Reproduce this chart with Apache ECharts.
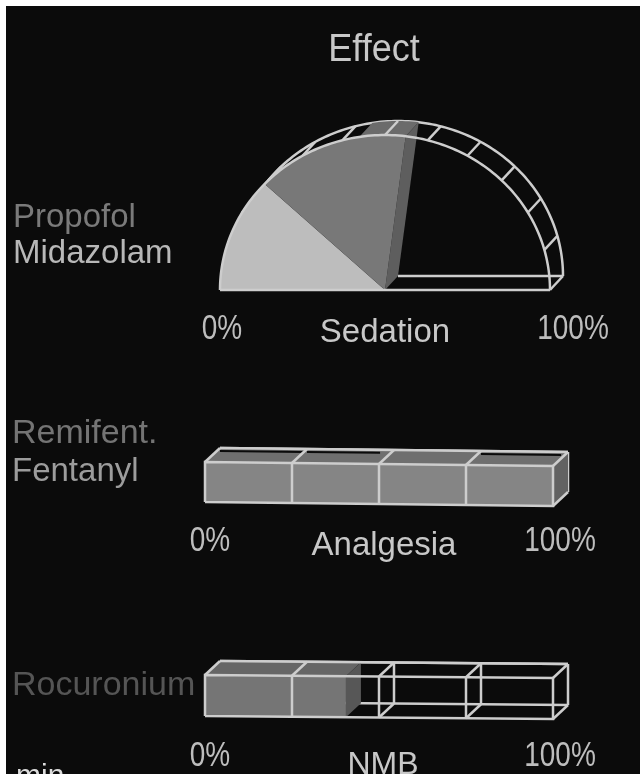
<!DOCTYPE html>
<html>
<head>
<meta charset="utf-8">
<title>Effect</title>
<script src="https://cdn.jsdelivr.net/npm/echarts@6/dist/echarts.min.js"></script>
<style>
  html, body { margin: 0; padding: 0; background: #fff; overflow: hidden; }
  #main { position: absolute; left: 6px; top: 6px; width: 634px; height: 768px; }
</style>
</head>
<body>
<div id="main"></div>
<script>
// values, percent of each scale
var sedationDrugs = ['Propofol', 'Midazolam'];
var sedationValues = [24, 30];
var analgesiaDrugs = ['Remifent.', 'Fentanyl'];
var analgesiaValues = [100];
var nmbDrugs = ['Rocuronium'];
var nmbValues = [40.5];
var sedationTicks = [8.33, 16.67, 25, 33.33, 41.67, 50, 58.33, 66.67, 75, 83.33, 91.67];
var barTicks = [25, 50, 75];
var scaleLabels = ['0%', '100%'];
var gaugeNames = ['Sedation', 'Analgesia', 'NMB'];
var analgesiaSlits = [[0, 24], [25, 46], [75, 98]];

var WIRE = '#cdcdcd';
var OFFX = -6, OFFY = -6; // chart starts 6px in from the page edge

var chart = echarts.init(document.getElementById('main'));

function wire(points, w) {
  return { type: 'polyline', shape: { points: points }, style: { stroke: WIRE, lineWidth: w || 2.5, fill: null } };
}
function poly(points, color) {
  return { type: 'polygon', shape: { points: points }, style: { fill: color } };
}

// half disc: percent runs from the left end over the top to the right end
function arcPoint(api, pct, back) {
  var a = Math.PI * (1 - pct / 100);
  var p = api.coord([100 * Math.cos(a), 100 * Math.sin(a)]);
  return back ? [p[0] + 13, p[1] - 14] : p;
}
function arcPoints(api, from, to, back) {
  var out = [];
  var n = Math.max(2, Math.round((to - from) * 1.5));
  for (var i = 0; i <= n; i++) out.push(arcPoint(api, from + (to - from) * i / n, back));
  return out;
}
function centerPoint(api, back) {
  var p = api.coord([0, 0]);
  return back ? [p[0] + 13, p[1] - 14] : p;
}

function sedationBack(params, api) {
  var kids = [wire(arcPoints(api, 0, 100, true))];
  var total = sedationValues[0] + sedationValues[1];
  var band = arcPoints(api, 45, total, false).concat(arcPoints(api, 45, total, true).reverse());
  kids.push(poly(band, '#6b6b6b'));
  sedationTicks.forEach(function (t) {
    kids.push(wire([arcPoint(api, t, false), arcPoint(api, t, true)]));
  });
  // rim back side and right hand closure
  kids.push(wire([centerPoint(api, true), arcPoint(api, 100, true)]));
  kids.push(wire([arcPoint(api, 100, false), arcPoint(api, 100, true)]));
  return { type: 'group', children: kids };
}
function sedationFill(params, api) {
  var start = 0;
  for (var i = 0; i < params.dataIndex; i++) start += sedationValues[i];
  var end = start + sedationValues[params.dataIndex];
  var pts = [centerPoint(api, false)].concat(arcPoints(api, start, end, false));
  var kids = [];
  if (params.dataIndex === sedationValues.length - 1) {
    kids.push(poly([centerPoint(api, false), arcPoint(api, end, false), arcPoint(api, end, true), centerPoint(api, true)], '#5e5e5e'));
  }
  kids.push(poly(pts, params.dataIndex === 0 ? '#bdbdbd' : '#787878'));
  return { type: 'group', children: kids };
}
function sedationFront(params, api) {
  return { type: 'group', children: [
    wire(arcPoints(api, 0, 100, false)),
    wire([arcPoint(api, 0, false), arcPoint(api, 100, false)])
  ] };
}

// box gauges: x is percent, y runs 0..1 over the front face
function boxPoint(api, pct, lvl, back, tilt) {
  var p = api.coord([pct, lvl]);
  p[1] += tilt * pct / 100;
  return back ? [p[0] + 15, p[1] - 14] : p;
}
function boxBack(tilt) {
  return function (params, api) {
    var kids = [
      wire([boxPoint(api, 0, 1, true, tilt), boxPoint(api, 100, 1, true, tilt)]),
      wire([boxPoint(api, 0, 0, true, tilt), boxPoint(api, 100, 0, true, tilt)]),
      wire([boxPoint(api, 100, 1, true, tilt), boxPoint(api, 100, 0, true, tilt)])
    ];
    barTicks.forEach(function (t) {
      kids.push(wire([boxPoint(api, t, 1, true, tilt), boxPoint(api, t, 0, true, tilt)]));
      kids.push(wire([boxPoint(api, t, 0, false, tilt), boxPoint(api, t, 0, true, tilt)]));
    });
    return { type: 'group', children: kids };
  };
}
function boxFill(tilt, front, top, side, slits) {
  return function (params, api) {
    var v = api.value(0);
    var kids = [
      poly([boxPoint(api, 0, 1, false, tilt), boxPoint(api, v, 1, false, tilt), boxPoint(api, v, 1, true, tilt), boxPoint(api, 0, 1, true, tilt)], top),
      poly([boxPoint(api, v, 1, false, tilt), boxPoint(api, v, 0, false, tilt), boxPoint(api, v, 0, true, tilt), boxPoint(api, v, 1, true, tilt)], side),
      poly([boxPoint(api, 0, 1, false, tilt), boxPoint(api, v, 1, false, tilt), boxPoint(api, v, 0, false, tilt), boxPoint(api, 0, 0, false, tilt)], front)
    ];
    (slits || []).forEach(function (s) {
      var a = boxPoint(api, s[0], 1, true, tilt), b = boxPoint(api, s[1], 1, true, tilt);
      kids.push({ type: 'line', shape: { x1: a[0], y1: a[1] + 3, x2: b[0], y2: b[1] + 3 }, style: { stroke: '#0b0b0b', lineWidth: 2 } });
    });
    return { type: 'group', children: kids };
  };
}
function boxFront(tilt) {
  return function (params, api) {
    var kids = [
      wire([boxPoint(api, 0, 0, false, tilt), boxPoint(api, 0, 1, false, tilt), boxPoint(api, 100, 1, false, tilt), boxPoint(api, 100, 0, false, tilt), boxPoint(api, 0, 0, false, tilt)]),
      wire([boxPoint(api, 0, 1, false, tilt), boxPoint(api, 0, 1, true, tilt)]),
      wire([boxPoint(api, 100, 1, false, tilt), boxPoint(api, 100, 1, true, tilt)]),
      wire([boxPoint(api, 100, 0, false, tilt), boxPoint(api, 100, 0, true, tilt)]),
      wire([boxPoint(api, 0, 1, true, tilt), boxPoint(api, 100, 1, true, tilt)])
    ];
    barTicks.forEach(function (t) {
      kids.push(wire([boxPoint(api, t, 1, false, tilt), boxPoint(api, t, 0, false, tilt)]));
      kids.push(wire([boxPoint(api, t, 1, false, tilt), boxPoint(api, t, 1, true, tilt)]));
    });
    return { type: 'group', children: kids };
  };
}

function layer(idx, render, data) {
  return { type: 'custom', xAxisIndex: idx, yAxisIndex: idx, renderItem: render, data: data, clip: false, silent: true, animation: false };
}
function hiddenAxis(min, max, g) { return { type: 'value', min: min, max: max, show: false, gridIndex: g }; }
function label(text, x, y, size, color, align, stretch) {
  return { type: 'text', x: x + OFFX, y: y + OFFY, scaleY: stretch || 1, silent: true, style: {
    text: text, fill: color, align: align || 'left', verticalAlign: 'middle',
    font: size + 'px "Liberation Sans"'
  } };
}

chart.setOption({
  backgroundColor: '#0b0b0b',
  animation: false,
  grid: [
    { left: 220 + OFFX, width: 330, top: 135 + OFFY, height: 155 },
    { left: 205 + OFFX, width: 348, top: 462 + OFFY, height: 40 },
    { left: 205 + OFFX, width: 348, top: 675 + OFFY, height: 41 }
  ],
  xAxis: [hiddenAxis(-100, 100, 0), hiddenAxis(0, 100, 1), hiddenAxis(0, 100, 2)],
  yAxis: [hiddenAxis(0, 100, 0), hiddenAxis(0, 1, 1), hiddenAxis(0, 1, 2)],
  series: [
    layer(0, sedationBack, [0]),
    layer(0, sedationFill, sedationValues),
    layer(0, sedationFront, [0]),
    layer(1, boxBack(4), [0]),
    layer(1, boxFill(4, '#858585', '#6f6f6f', '#626262', analgesiaSlits), analgesiaValues),
    layer(1, boxFront(4), [0]),
    layer(2, boxBack(3), [0]),
    layer(2, boxFill(3, '#757575', '#666666', '#575757'), nmbValues),
    layer(2, boxFront(3), [0])
  ],
  graphic: { elements: [
    label('Effect', 374, 50, 36, '#c8c8c8', 'center', 1.1),
    label(sedationDrugs[0], 13, 218, 33, '#7a7a7a'),
    label(sedationDrugs[1], 13, 254, 33, '#b8b8b8'),
    label(analgesiaDrugs[0], 12, 434, 34, '#747474'),
    label(analgesiaDrugs[1], 12, 472, 33, '#9c9c9c'),
    label(nmbDrugs[0], 12, 686, 34, '#555555'),
    label(scaleLabels[0], 222, 329, 28, '#bdbdbd', 'center', 1.25),
    label(gaugeNames[0], 385, 333, 33, '#c8c8c8', 'center'),
    label(scaleLabels[1], 573, 329, 28, '#bdbdbd', 'center', 1.25),
    label(scaleLabels[0], 210, 541, 28, '#bdbdbd', 'center', 1.25),
    label(gaugeNames[1], 384, 546, 33, '#c8c8c8', 'center'),
    label(scaleLabels[1], 560, 541, 28, '#bdbdbd', 'center', 1.25),
    label(scaleLabels[0], 210, 756, 28, '#bdbdbd', 'center', 1.25),
    label(gaugeNames[2], 383, 765, 32, '#c8c8c8', 'center'),
    label(scaleLabels[1], 560, 756, 28, '#bdbdbd', 'center', 1.25),
    label('min', 16, 777, 30, '#dcdcdc')
  ] }
});
</script>
</body>
</html>
